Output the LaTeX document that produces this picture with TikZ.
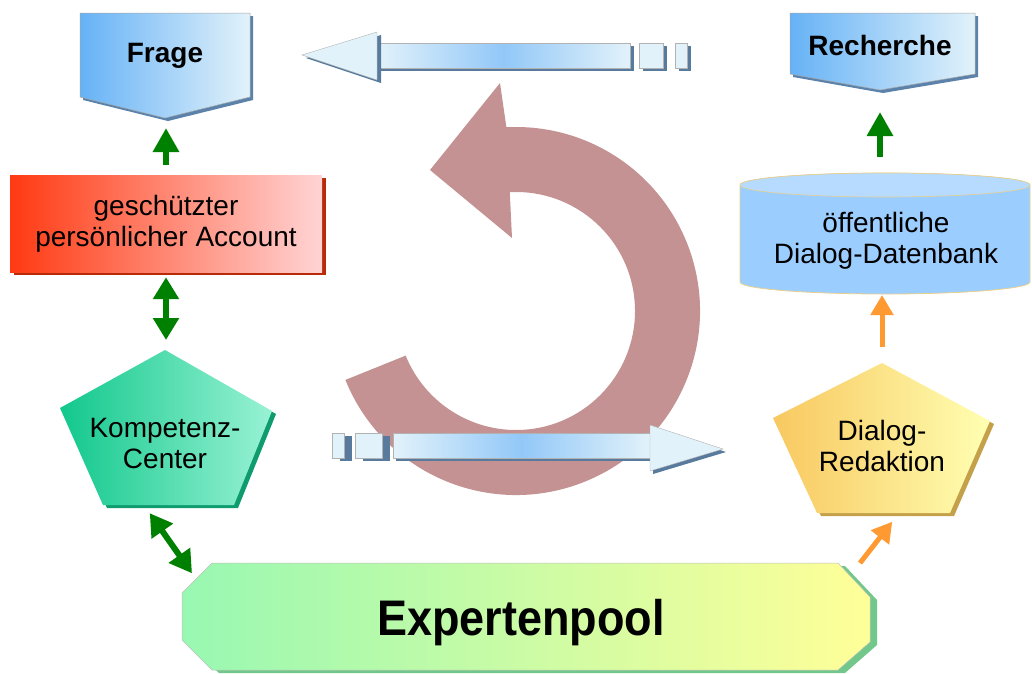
\documentclass[tikz,border=0pt]{standalone}
\usepackage{fontspec}
\setmainfont{Liberation Sans}
\usetikzlibrary{arrows.meta,shadows,calc}
\definecolor{ArrowGreen}{HTML}{008000}
\definecolor{ArrowOrange}{HTML}{FF9A33}
\definecolor{BoxBlue}{HTML}{66B2F6}
\definecolor{PaleBlue}{HTML}{E2F2FA}
\definecolor{EdgeBlue}{HTML}{5A82AA}
\definecolor{AccRed}{HTML}{FF3A12}
\definecolor{AccPink}{HTML}{FFD4D4}
\definecolor{AccShade}{HTML}{B82A08}
\definecolor{KompLeft}{HTML}{12C88C}
\definecolor{KompRight}{HTML}{98F2D4}
\definecolor{KompShade}{HTML}{0E9C6E}
\definecolor{PoolLeft}{HTML}{98F8B2}
\definecolor{PoolRight}{HTML}{FFFF98}
\definecolor{PoolShade}{HTML}{72C88A}
\definecolor{RedLeft}{HTML}{F8C860}
\definecolor{RedRight}{HTML}{FFFFB2}
\definecolor{RedShade}{HTML}{C4A04A}
\definecolor{DbBlue}{HTML}{9CCDFF}
\definecolor{DbTop}{HTML}{B6DBFF}
\definecolor{DbEdge}{HTML}{E8D08C}
\definecolor{LoopRose}{HTML}{C49292}
\definecolor{ShaftMid}{HTML}{92C8F8}
\definecolor{BlockDark}{HTML}{587A9C}

\begin{document}
\begin{tikzpicture}[x=1pt,y=-1pt,
    lbl/.style={font=\fontsize{28}{31}\selectfont,align=center,inner sep=0pt},
    ttl/.style={font=\fontsize{28}{31}\selectfont\bfseries,inner sep=0pt},
    solid3d/.style 2 args={drop shadow={shadow xshift=#1,shadow yshift=-3pt,opacity=1,fill=#2}},
    blueflow/.style={fill=PaleBlue,draw=gray!60,line width=0.4pt},
    greenarr/.style={ArrowGreen,line width=6pt,-{Triangle[width=25pt,length=24pt]}},
    greendbl/.style={ArrowGreen,line width=6pt,{Triangle[width=25pt,length=22pt]}-{Triangle[width=25pt,length=22pt]}},
    orangearr/.style={ArrowOrange,line width=5pt,-{Triangle[width=22pt,length=20pt]}}
  ]
  \useasboundingbox (0,0) rectangle (1032,673);

  % loop in the middle
  \coordinate (loopc) at (516,311);
  \fill[LoopRose] (loopc) ++(158:184) arc[start angle=158,end angle=-93,radius=184]
    -- (500,83) -- (430,170) -- (512,238)
    -- ($(loopc)+(-93:119)$) arc[start angle=-93,end angle=158,radius=119] -- cycle;

  % flow arrow, top (to the left)
  \path[blueflow,solid3d={4pt}{BlockDark}] (639,43) rectangle (663,68);
  \path[blueflow,solid3d={4pt}{BlockDark}] (675,43) rectangle (687,68);
  \path[draw=gray!60,line width=0.4pt,left color=PaleBlue,right color=PaleBlue,middle color=ShaftMid,
        solid3d={4pt}{BlockDark}] (377,43) rectangle (630,68);
  \path[blueflow,solid3d={4pt}{BlockDark}] (302,55) -- (377,32) -- (377,80) -- cycle;

  % flow arrow, bottom (to the right)
  \path[blueflow,solid3d={8pt}{BlockDark}] (332,433) rectangle (344,458);
  \path[blueflow,solid3d={8pt}{BlockDark}] (355,433) rectangle (382,458);
  \path[draw=gray!60,line width=0.4pt,left color=PaleBlue,right color=PaleBlue,middle color=ShaftMid,
        solid3d={3pt}{BlockDark}] (393,433) rectangle (650,458);
  \path[blueflow,solid3d={3pt}{BlockDark}] (650,425) -- (723,449) -- (650,471) -- cycle;

  % left column
  \path[left color=BoxBlue,right color=PaleBlue,draw=gray!70,line width=0.5pt,solid3d={3pt}{EdgeBlue}]
    (80,13) -- (250,13) -- (250,97) -- (165,118) -- (80,97) -- cycle;
  \node[ttl] (frage) at (165,56) {Frage};
  \coordinate (fragetip) at (165,118);

  \node[lbl,minimum width=312pt,minimum height=97pt,left color=AccRed,right color=AccPink,
        solid3d={4pt}{AccShade}] (acc) at (166,223.5) {geschützter\\persönlicher Account};

  \path[left color=KompLeft,right color=KompRight,solid3d={4pt}{KompShade}]
    (165,350) -- (272,411) -- (234,505) -- (103,505) -- (60,408) -- cycle;
  \node[lbl] (komp) at (165,443) {Kompetenz-\\Center};
  \coordinate (komptop) at (165,350);
  \coordinate (kompfoot) at (144,505);

  % pool
  \path[left color=PoolLeft,right color=PoolRight,draw=gray!50,line width=0.5pt,solid3d={7pt}{PoolShade}]
    (212,563) -- (838,563) -- (870,597) -- (870,642) -- (838,670) -- (212,670) -- (182,640) -- (182,593) -- cycle;
  \node[font=\fontsize{50}{54}\selectfont\bfseries,inner sep=0pt,anchor=base] (pool) at (521,635)
    {\scalebox{0.9}[1]{Expertenpool}};
  \coordinate (poolcut) at (196,579);
  \coordinate (poolne) at (860,563);

  % right column
  \path[left color=BoxBlue,right color=PaleBlue,draw=gray!70,line width=0.5pt,solid3d={3pt}{EdgeBlue}]
    (790,13) -- (975,13) -- (975,74) -- (880,90) -- (790,74) -- cycle;
  \node[ttl] (rech) at (880,45) {Recherche};
  \coordinate (rechtip) at (880,90);

  \path[fill=DbBlue,draw=DbEdge,line width=0.8pt] (740,185) -- (740,282)
    arc[start angle=180,end angle=0,x radius=145,y radius=12] -- (1030,185)
    arc[start angle=0,end angle=-180,x radius=145,y radius=12] -- cycle;
  \path[fill=DbTop,draw=DbEdge,line width=0.6pt] (885,185) ellipse[x radius=145,y radius=12];
  \node[lbl] (db) at (886,241) {öffentliche\\Dialog-Datenbank};
  \coordinate (dbtop) at (880,173);
  \coordinate (dbbot) at (882,294);

  \path[left color=RedLeft,right color=RedRight,solid3d={4pt}{RedShade}]
    (882,363) -- (990,421) -- (950,513) -- (817,513) -- (773,418) -- cycle;
  \node[lbl] (dlg) at (882,446) {Dialog-\\Redaktion};
  \coordinate (dlgtop) at (882,363);
  \coordinate (dlgfoot) at (899,513);

  % connectors
  \draw[greenarr,shorten <=10pt,shorten >=10pt] (acc.north) -- (acc.north |- fragetip);
  \draw[greendbl,shorten <=5pt,shorten >=10pt] (acc.south) -- (acc.south |- komptop);
  \draw[greendbl,shorten <=10pt,shorten >=7pt] (kompfoot) -- (poolcut);
  \draw[orangearr,shorten >=11pt] (poolne) -- (dlgfoot);
  \draw[orangearr,shorten <=16pt,shorten >=1pt] (dlgtop) -- (dbbot);
  \draw[greenarr,shorten <=16pt,shorten >=22pt] (dbtop) -- (rechtip);
\end{tikzpicture}
\end{document}
